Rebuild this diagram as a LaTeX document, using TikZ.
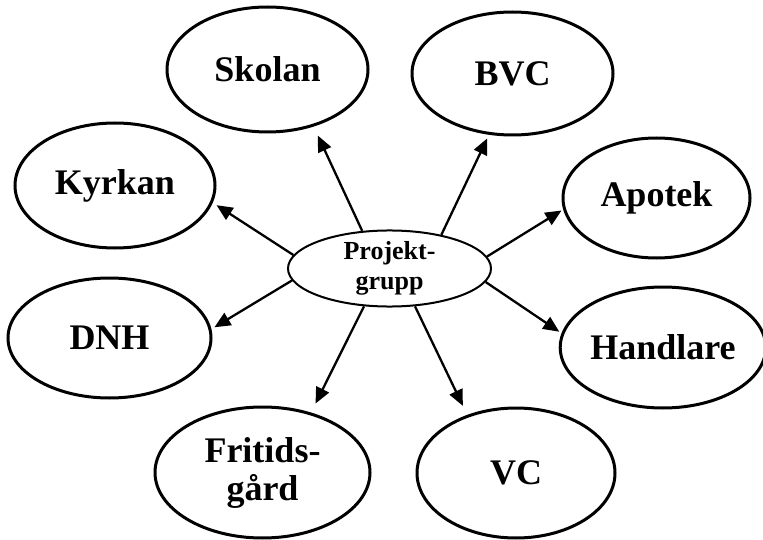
\documentclass[tikz,border=0pt]{standalone}
\usepackage{fontspec}
\setmainfont{Liberation Serif}
\usetikzlibrary{shapes.geometric,arrows.meta}
\begin{document}
\begin{tikzpicture}[x=1pt,y=1pt,
  oval/.style={ellipse,draw,line width=3pt,inner sep=0pt,align=center,
    font=\bfseries\fontsize{36}{38}\selectfont},
  hub/.style={ellipse,draw,line width=2pt,inner sep=0pt,align=center,
    font=\bfseries\fontsize{26}{30}\selectfont},
  arr/.style={line width=2.3pt,-{Triangle[length=16pt,width=14pt]}}]
\useasboundingbox (0,0) rectangle (763,-540);
\node[oval,minimum width=201pt,minimum height=125pt] (sk) at (267.5,-69.5) {Skolan};
\node[oval,minimum width=201pt,minimum height=123pt] (bvc) at (512.5,-73.5) {BVC};
\node[oval,minimum width=200pt,minimum height=125pt] (ky) at (115,-185.5) {Kyrkan};
\node[oval,minimum width=187pt,minimum height=120pt] (ap) at (656.5,-198) {Apotek};
\node[oval,minimum width=196pt,minimum height=121pt] (ha) at (663,-347.5) {Handlare};
\node[oval,minimum width=203pt,minimum height=120pt] (dnh) at (109.5,-338) {DNH};
\node[oval,minimum width=215pt,minimum height=131pt] (fr) at (262.5,-472.5) {Fritids-\\gård};
\node[oval,minimum width=198pt,minimum height=130pt] (vc) at (516,-473) {VC};
\node[hub,minimum width=203pt,minimum height=73pt] (p) at (389.5,-268.5) {Projekt-\\grupp};
\draw[arr,shorten >=10pt] (p.126) -- (sk.-51);
\draw[arr,shorten >=4pt] (p.33) -- (bvc.-111);
\draw[arr,shorten >=4.5pt] (p.172) -- (ky.-10);
\draw[arr,shorten >=3.5pt] (p.187) -- (dnh.5);
\draw[arr,shorten >=2pt] (p.7) -- (ap.187);
\draw[arr,shorten >=2.7pt] (p.-8) -- (ha.172);
\draw[arr,shorten >=10pt] (p.-124) -- (fr.51);
\draw[arr,shorten >=10pt] (p.-56) -- (vc.130);
\end{tikzpicture}
\end{document}
